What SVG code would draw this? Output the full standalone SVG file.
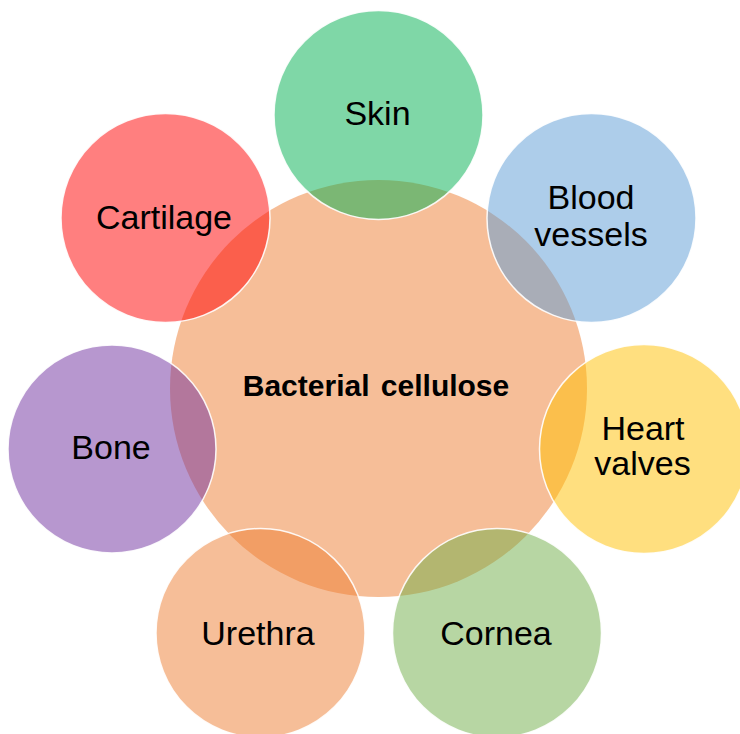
<svg xmlns="http://www.w3.org/2000/svg" width="740" height="734" viewBox="0 0 740 734">
<style>
.sat{fill-opacity:0.5;stroke:#ffffff;stroke-width:1.5;stroke-opacity:0.9}
.lbl{font-family:"Liberation Sans",Arial,sans-serif;font-size:34px;fill:#000000;text-anchor:middle}
.ctr{font-family:"Liberation Sans",Arial,sans-serif;font-size:30px;font-weight:bold;fill:#000000;text-anchor:middle;word-spacing:3px}
</style>
<rect width="740" height="734" fill="#ffffff"/>
<g id="connectors"></g>
<g id="center">
<circle cx="378.5" cy="388.5" r="208.5" fill="#ED7D31" fill-opacity="0.5"/>
<text class="ctr" x="376" y="396">Bacterial cellulose</text>
</g>
<g id="skin">
<circle class="sat" cx="378.5" cy="115" r="104.5" fill="#00B050"/>
<text class="lbl" x="377.5" y="125">Skin</text>
</g>
<g id="blood-vessels">
<circle class="sat" cx="591.5" cy="218" r="104.5" fill="#5B9BD5"/>
<text class="lbl" x="591" y="209">Blood</text>
<text class="lbl" x="591" y="246">vessels</text>
</g>
<g id="heart-valves">
<circle class="sat" cx="644" cy="449" r="104.5" fill="#FFC000"/>
<text class="lbl" x="643" y="440">Heart</text>
<text class="lbl" x="642.5" y="475">valves</text>
</g>
<g id="cornea">
<circle class="sat" cx="497" cy="633" r="104.5" fill="#70AD47"/>
<text class="lbl" x="496" y="645">Cornea</text>
</g>
<g id="urethra">
<circle class="sat" cx="260.5" cy="633" r="104.5" fill="#ED7D31"/>
<text class="lbl" x="258" y="645">Urethra</text>
</g>
<g id="bone">
<circle class="sat" cx="112" cy="449" r="104" fill="#7030A0"/>
<text class="lbl" x="111" y="459">Bone</text>
</g>
<g id="cartilage">
<circle class="sat" cx="165.5" cy="218" r="104.5" fill="#FF0000"/>
<text class="lbl" x="164" y="229">Cartilage</text>
</g>
</svg>
